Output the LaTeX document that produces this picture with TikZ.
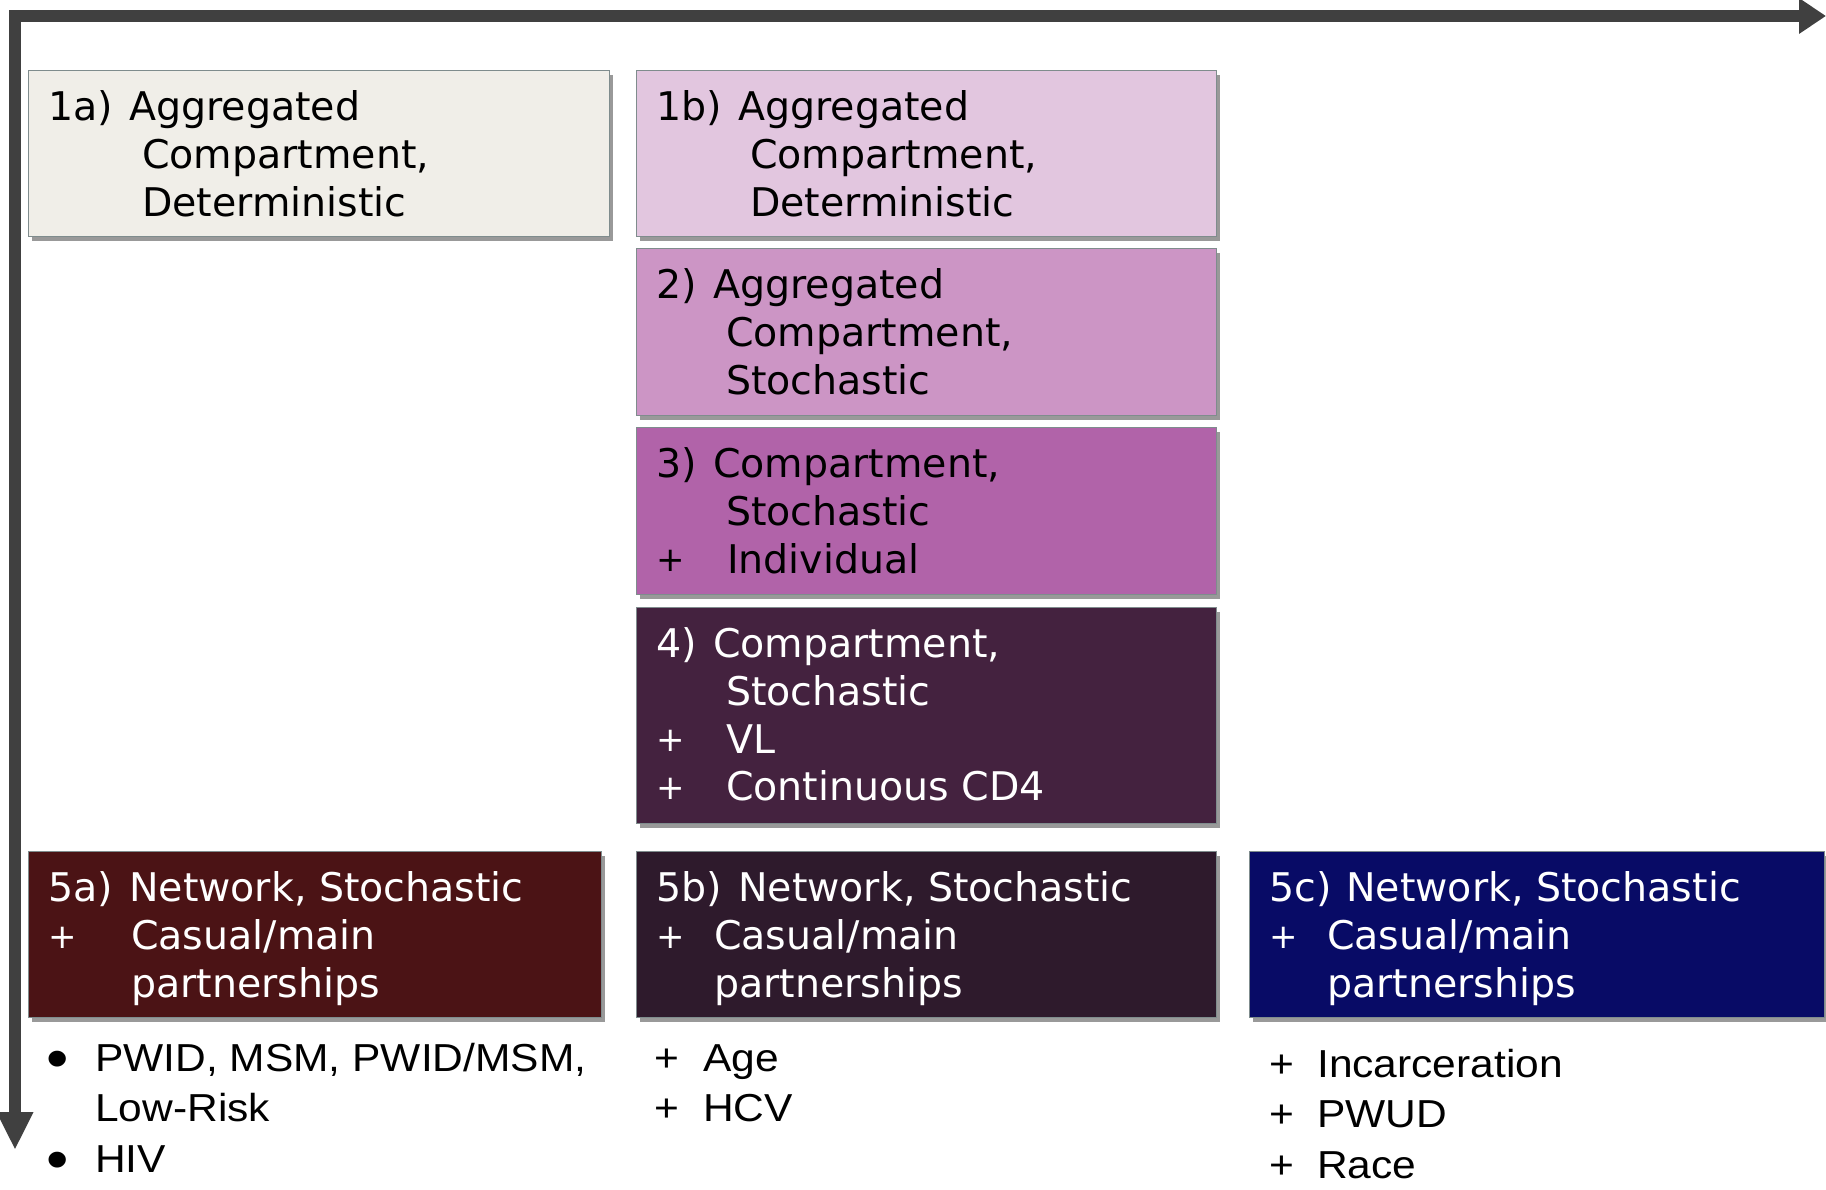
\documentclass[tikz,border=0pt]{standalone}
\usepackage{fontspec}
\setmainfont{DejaVu Sans}
\newfontfamily\listfont[FakeStretch=1.09]{Liberation Sans}
\usetikzlibrary{arrows.meta,shadows}
\definecolor{axiscol}{HTML}{404040}
\definecolor{boxline}{HTML}{7F8C8D}
\definecolor{cOneA}{HTML}{F0EEE8}
\definecolor{cOneB}{HTML}{E2C6DF}
\definecolor{cTwo}{HTML}{CC95C5}
\definecolor{cThree}{HTML}{B163A9}
\definecolor{cFour}{HTML}{44223F}
\definecolor{cFiveA}{HTML}{4B1315}
\definecolor{cFiveB}{HTML}{2E1A2C}
\definecolor{cFiveC}{HTML}{080B66}
\newcommand\pfx[2]{\makebox[#1pt][l]{#2}}
\newcommand\bplus{\raisebox{1.5pt}{\scalebox{0.86}{+}}}
\newcommand\bigbul{\raisebox{-7pt}{\scalebox{1.5}{\textbullet}}}
\begin{document}
\begin{tikzpicture}[x=1pt,y=-1pt,
  modelbox/.style={draw=boxline, line width=1.2pt, rectangle, inner sep=0pt, anchor=north west,
    drop shadow={shadow xshift=3pt, shadow yshift=-4pt, opacity=0.4, fill=black}},
  boxtext/.style={anchor=north west, inner sep=0pt, align=left,
    font=\fontsize{39.5}{47.7}\selectfont},
  listtext/.style={anchor=north west, inner sep=0pt, align=left,
    font=\listfont\fontsize{39}{50.7}\selectfont},
  axisline/.style={draw=axiscol, line width=12pt}]
\useasboundingbox (0,0) rectangle (1826,1190);

% axes
\coordinate (corner) at (15,16);
\coordinate (xtip) at (1826,16);
\coordinate (ytip) at (15,1150);
\draw[axisline, {Triangle[length=38pt,width=34pt]}-{Triangle[length=27pt,width=34pt]}]
  (ytip) -- (corner) -- (xtip);

% boxes
\node[modelbox, fill=cOneA,  minimum width=581pt, minimum height=166pt] (b1a) at (28,70) {};
\node[modelbox, fill=cOneB,  minimum width=580pt, minimum height=166pt] (b1b) at (636,70) {};
\node[modelbox, fill=cTwo,   minimum width=580pt, minimum height=167pt] (b2)  at (636,248) {};
\node[modelbox, fill=cThree, minimum width=580pt, minimum height=167pt] (b3)  at (636,427) {};
\node[modelbox, fill=cFour,  minimum width=580pt, minimum height=216pt] (b4)  at (636,607) {};
\node[modelbox, fill=cFiveA, minimum width=573pt, minimum height=166pt] (b5a) at (28,851) {};
\node[modelbox, fill=cFiveB, minimum width=580pt, minimum height=166pt] (b5b) at (636,851) {};
\node[modelbox, fill=cFiveC, minimum width=575pt, minimum height=166pt] (b5c) at (1249,851) {};

% box texts
\node[boxtext] (t1a) at (48,87.3)
  {\strut\pfx{81}{1a)}Aggregated\\\pfx{94}{}Compartment,\\\pfx{94}{}Deterministic};
\node[boxtext] (t1b) at (656,87.3)
  {\strut\pfx{82}{1b)}Aggregated\\\pfx{94}{}Compartment,\\\pfx{94}{}Deterministic};
\node[boxtext] (t2) at (656,265.3)
  {\strut\pfx{57}{2)}Aggregated\\\pfx{70}{}Compartment,\\\pfx{70}{}Stochastic};
\node[boxtext] (t3) at (656,444.3)
  {\strut\pfx{57}{3)}Compartment,\\\pfx{70}{}Stochastic\\\pfx{71}{\bplus}Individual};
\node[boxtext, text=white] (t4) at (656,624.3)
  {\strut\pfx{57}{4)}Compartment,\\\pfx{70}{}Stochastic\\\pfx{70}{\bplus}VL\\\pfx{70}{\bplus}Continuous CD4};
\node[boxtext, text=white] (t5a) at (48,868.3)
  {\strut\pfx{81}{5a)}Network, Stochastic\\\pfx{83}{\bplus}Casual/main\\\pfx{83}{}partnerships};
\node[boxtext, text=white] (t5b) at (656,868.3)
  {\strut\pfx{82}{5b)}Network, Stochastic\\\pfx{58}{\bplus}Casual/main\\\pfx{58}{}partnerships};
\node[boxtext, text=white] (t5c) at (1269,868.3)
  {\strut\pfx{77}{5c)}Network, Stochastic\\\pfx{58}{\bplus}Casual/main\\\pfx{58}{}partnerships};

% lists below
\node[listtext] (l5a) at (46,1035.5)
  {\strut\pfx{49}{\bigbul}PWID, MSM, PWID/MSM,\\\pfx{49}{}Low-Risk\\\pfx{49}{\bigbul}HIV};
\node[listtext] (l5b) at (654,1035.5)
  {\strut\pfx{49}{+}Age\\\pfx{49}{+}HCV};
\node[listtext] (l5c) at (1269,1041.5)
  {\strut\pfx{48}{+}Incarceration\\\pfx{48}{+}PWUD\\\pfx{48}{+}Race};
\end{tikzpicture}
\end{document}
